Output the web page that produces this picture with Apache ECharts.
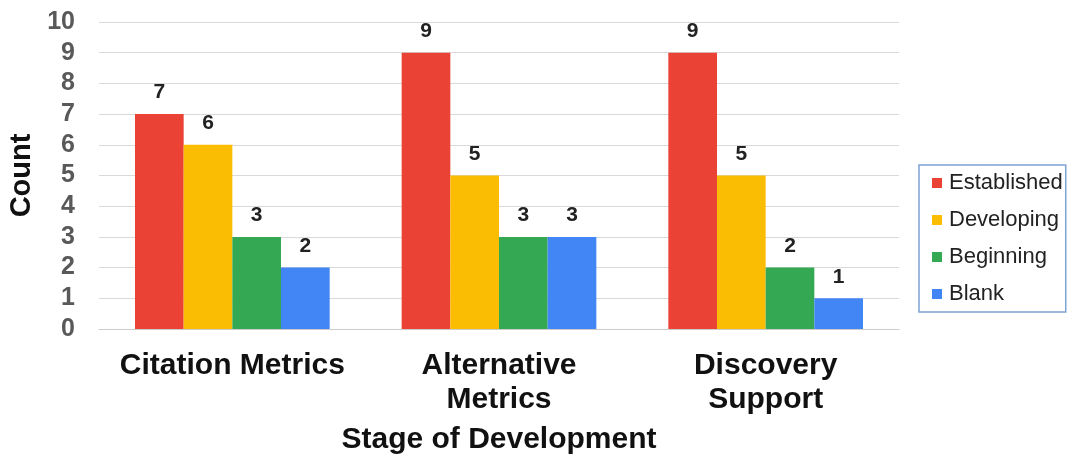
<!DOCTYPE html>
<html>
<head>
<meta charset="utf-8">
<style>
  html, body { margin: 0; padding: 0; background: #fff; }
  #chart { width: 1073px; height: 457px; }
</style>
<script src="https://cdn.jsdelivr.net/npm/echarts@6/dist/echarts.min.js"></script>
</head>
<body>
<div id="chart"></div>
<script>
// Valores
const categories = ['Citation Metrics', 'Alternative\nMetrics', 'Discovery\nSupport'];
const seriesNames = ['Established', 'Developing', 'Beginning', 'Blank'];
const established = [7, 9, 9];
const developing = [6, 5, 5];
const beginning = [3, 3, 2];
const blank = [2, 3, 1];
const colors = ['#ea4335', '#fbbc04', '#34a853', '#4285f4'];

const FONT = 'Liberation Sans, Arial, sans-serif';
const values = [established, developing, beginning, blank];

const chart = echarts.init(document.getElementById('chart'));
chart.setOption({
    animation: false,
    textStyle: { fontFamily: FONT },
    color: colors,
    grid: { left: 99, right: 174, top: 22, bottom: 128, outerBoundsMode: 'none' },
    legend: {
        orient: 'vertical',
        left: 919,
        top: 165,
        padding: [7, 3, 7, 13],
        itemGap: 15,
        itemWidth: 10,
        itemHeight: 10,
        icon: 'rect',
        borderColor: '#7fa3d6',
        borderWidth: 1.5,
        textStyle: { fontSize: 22, lineHeight: 22, color: '#222', fontFamily: FONT, padding: [0, 0, 0, 2] },
        data: seriesNames
    },
    xAxis: {
        type: 'category',
        data: categories,
        name: 'Stage of Development',
        nameLocation: 'middle',
        nameGap: 96,
        nameTextStyle: { fontSize: 30, fontWeight: 'bold', color: '#111' },
        axisTick: { show: false },
        axisLine: { lineStyle: { color: '#ccc' } },
        axisLabel: { interval: 0, hideOverlap: false, fontSize: 30, fontWeight: 'bold', color: '#111', margin: 20, lineHeight: 34 }
    },
    yAxis: {
        type: 'value',
        min: 0,
        max: 10,
        interval: 1,
        name: 'Count',
        nameLocation: 'middle',
        nameRotate: 90,
        nameGap: 63,
        nameTextStyle: { fontSize: 29, fontWeight: 'bold', color: '#111' },
        axisLine: { show: false },
        axisTick: { show: false },
        splitLine: { lineStyle: { color: '#d9d9d9' } },
        axisLabel: { fontSize: 25, fontWeight: 'bold', color: '#595959', margin: 24 }
    },
    series: seriesNames.map((name, i) => ({
        name,
        type: 'bar',
        data: values[i],
        barGap: '0%',
        barCategoryGap: '27%',
        label: {
            show: true,
            position: 'top',
            distance: 11,
            fontSize: 21,
            fontWeight: 'bold',
            color: '#222'
        }
    }))
});
</script>
</body>
</html>
